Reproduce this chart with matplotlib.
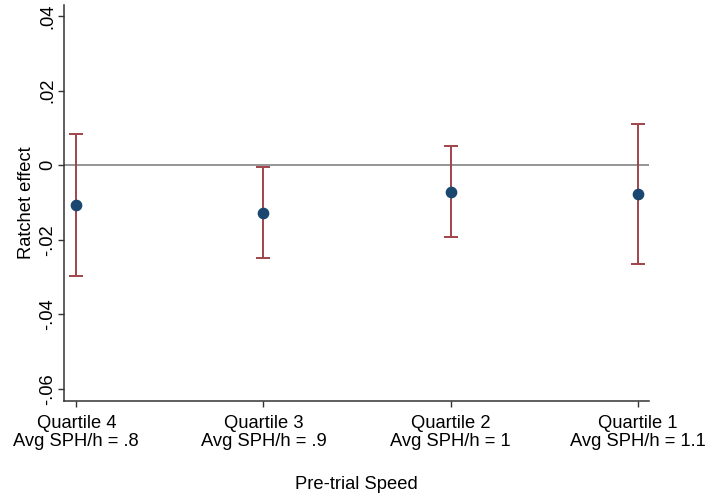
import matplotlib
matplotlib.use("Agg")
import matplotlib.pyplot as plt

categories = ["Quartile 4\nAvg SPH/h = .8", "Quartile 3\nAvg SPH/h = .9",
              "Quartile 2\nAvg SPH/h = 1", "Quartile 1\nAvg SPH/h = 1.1"]
estimates = [-0.0106, -0.0129, -0.0072, -0.0077]
ci_upper = [0.0085, -0.0006, 0.0052, 0.0111]
ci_lower = [-0.0297, -0.0250, -0.0194, -0.0264]
yticks = [-0.06, -0.04, -0.02, 0, 0.02, 0.04]
ytick_labels = ["-.06", "-.04", "-.02", "0", ".02", ".04"]

plt.rcParams['font.family'] = ['Liberation Sans', 'DejaVu Sans']
fs = 13.2

fig = plt.figure(figsize=(7.06, 4.99), dpi=100)
ax = fig.add_axes([64/706, 1-401/499, (649.3-64)/706, (401-5)/499])

x = list(range(1, len(categories)+1))
ax.axhline(0, color='#8c8c8c', lw=1.3, zorder=1)
lower_err = [e - l for e, l in zip(estimates, ci_lower)]
upper_err = [u - e for e, u in zip(estimates, ci_upper)]
ax.errorbar(x, estimates, yerr=[lower_err, upper_err], fmt='none',
            ecolor='#a0434b', elinewidth=1.4, capsize=5, capthick=1.4, zorder=2)
ax.plot(x, estimates, 'o', color='#1a476f', markersize=7.4, zorder=3)

ax.set_xlim(1 - 12.3/187, 4 + 11.6/187)
ax.set_ylim(-0.0633, 0.0430)
ax.set_xticks(x)
ax.set_xticklabels(categories, fontsize=fs, linespacing=1.05)
ax.set_yticks(yticks)
ax.set_yticklabels(ytick_labels, fontsize=fs, rotation=90, va='center')
ax.tick_params(axis='both', length=4.3, width=1, color='#333333')
ax.tick_params(axis='y', pad=1.5)
ax.tick_params(axis='x', pad=6)
for s in ['top', 'right']:
    ax.spines[s].set_visible(False)
for s in ['left', 'bottom']:
    ax.spines[s].set_color('#333333')
    ax.spines[s].set_linewidth(1.1)
ax.set_ylabel("Ratchet effect", fontsize=fs, labelpad=2.5)
ax.set_xlabel("Pre-trial Speed", fontsize=fs, labelpad=19)

fig.savefig("out.png", dpi=100)
